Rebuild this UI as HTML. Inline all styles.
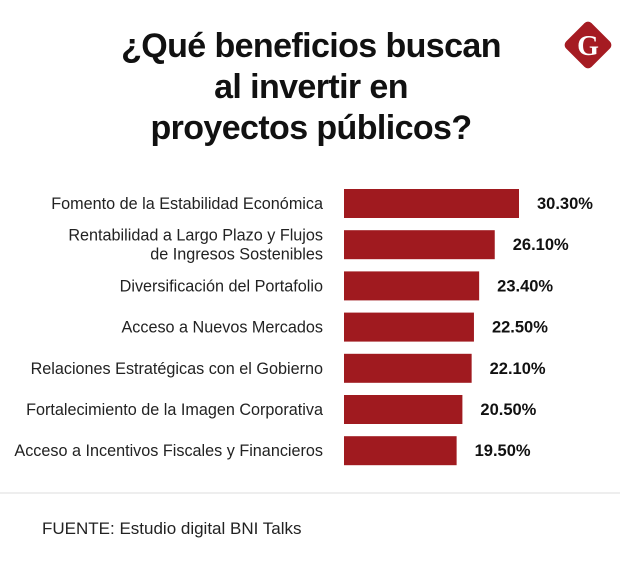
<!DOCTYPE html>
<html><head><meta charset="utf-8"><style>
body{margin:0;width:620px;height:567px;background:#fff;overflow:hidden;font-family:"Liberation Sans",sans-serif}
</style></head><body>
<svg width="620" height="567" viewBox="0 0 620 567">
<g font-weight="bold" font-size="34" fill="#111" text-anchor="middle" letter-spacing="-0.6">
<text x="311" y="57">¿Qué beneficios buscan</text>
<text x="311" y="98">al invertir en</text>
<text x="311" y="139">proyectos públicos?</text>
</g>
<g>
<rect x="570" y="27" width="36" height="36" rx="5" fill="#a51b22" transform="rotate(45 588 45)"/>
<text x="588" y="55" font-size="28" font-weight="bold" fill="#fff" text-anchor="middle" font-family="Liberation Serif,serif">G</text>
</g>
<g id="bars"></g>
<line x1="0" y1="493" x2="620" y2="493" stroke="#ddd" stroke-width="1"/>
<text x="42" y="534" font-size="17" fill="#222">FUENTE: Estudio digital BNI Talks</text>
</svg>
<script>
const categories=[["Fomento de la Estabilidad Económica"],["Rentabilidad a Largo Plazo y Flujos","de Ingresos Sostenibles"],["Diversificación del Portafolio"],["Acceso a Nuevos Mercados"],["Relaciones Estratégicas con el Gobierno"],["Fortalecimiento de la Imagen Corporativa"],["Acceso a Incentivos Fiscales y Financieros"]];
const values=[30.3,26.1,23.4,22.5,22.1,20.5,19.5];
const valueLabels=["30.30%","26.10%","23.40%","22.50%","22.10%","20.50%","19.50%"];
const NS="http://www.w3.org/2000/svg";
const x0=344, k=175/30.3;
const xs=v=>v*k;
const yb=i=>189+i*41.2;
const g=document.getElementById('bars');
function mk(t,a){const e=document.createElementNS(NS,t);for(const n in a)e.setAttribute(n,a[n]);g.appendChild(e);return e;}
values.forEach((v,i)=>{
 const y=yb(i);
 const r=mk('rect',{x:x0,y:y,width:xs(v),height:29,fill:'#a01a1f'});
 
 
 const t=mk('text',{x:x0+xs(v)+18,y:y+20,'font-size':16.5,'font-weight':'bold',fill:'#111'});
 t.textContent=valueLabels[i];
 
 
 const lines=categories[i];
 lines.forEach((s,j)=>{
  const c=mk('text',{x:323,y:y+20+(j-(lines.length-1)/2)*19,'font-size':16.2,fill:'#222','text-anchor':'end'});
  c.textContent=s;
  
  
 });
});
</script>
</body></html>
